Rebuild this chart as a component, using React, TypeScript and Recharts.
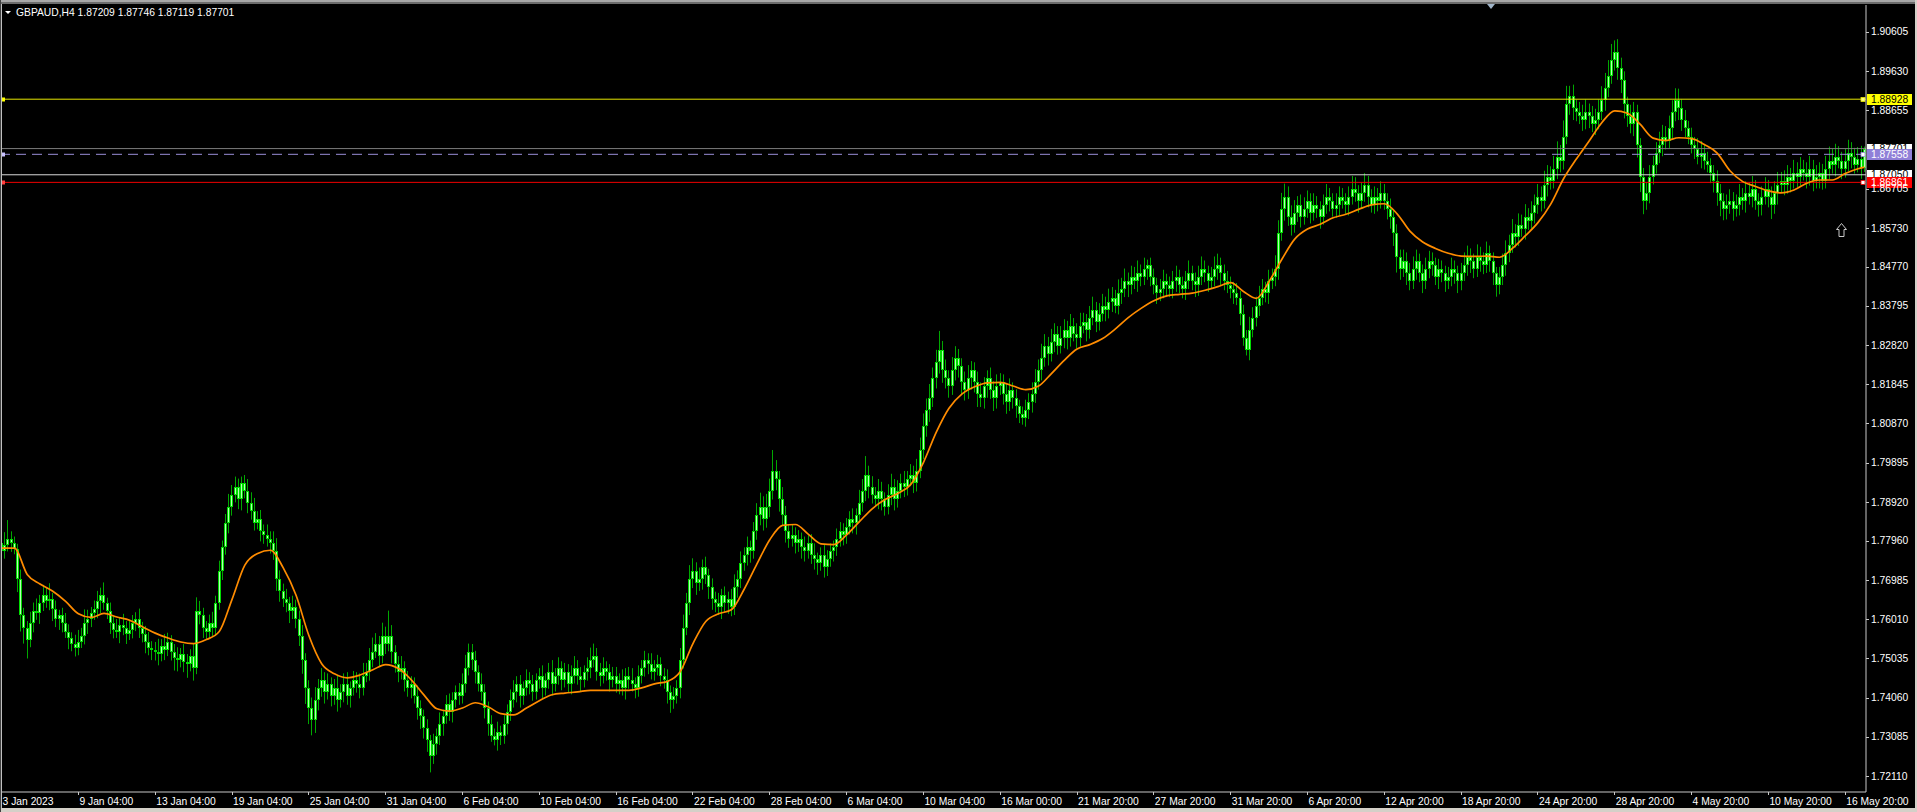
import React from 'react';
import { ComposedChart, Bar, Line, XAxis, YAxis, ReferenceLine } from 'recharts';

// ---- data (prices in pips above 1.70000) ----
const firstOpen = 790;

const closePips = [
  // 3 Jan
  770,785,800,790,775,700,610,580,550,590,620,615,640,660,645,650,625,600,610,590,570,555,540,530,
  // 9 Jan 04:00
  545,560,590,600,615,625,645,660,640,620,590,575,570,585,580,565,575,590,600,580,565,545,530,525,
  // 13 Jan 04:00
  520,515,535,525,545,520,505,500,515,495,490,510,480,620,610,580,570,590,580,640,720,780,840,880,
  // 19 Jan 04:00
  910,930,900,940,920,890,870,840,850,820,810,800,790,770,700,670,650,640,620,630,600,560,500,430,
  // 25 Jan 04:00
  380,350,400,430,450,420,440,410,430,400,420,440,410,430,450,440,430,460,470,500,520,540,510,560,
  // 31 Jan 04:00
  540,560,520,490,470,480,450,430,440,410,380,360,330,300,260,290,310,340,360,390,370,400,420,410,
  // 6 Feb 04:00
  440,480,520,500,470,440,420,380,340,310,300,320,310,340,370,400,420,440,410,430,450,440,420,450,
  // 10 Feb 04:00
  460,430,450,470,440,460,480,450,470,440,460,480,460,450,470,480,500,510,470,460,480,470,450,460,
  // 16 Feb 04:00
  440,450,430,460,450,440,430,460,480,500,490,470,480,490,460,450,420,400,410,430,500,580,640,700,
  // 22 Feb 04:00
  720,690,700,730,710,680,650,640,630,660,640,650,630,680,700,740,760,780,770,820,860,880,850,880,
  // 28 Feb 04:00
  920,970,950,900,860,820,800,810,790,800,780,770,790,760,750,740,760,730,750,770,780,800,820,810,
  // 6 Mar 04:00
  830,850,840,860,890,920,960,930,910,900,920,900,880,910,930,900,920,940,930,950,960,940,970,1020,
  // 10 Mar 04:00
  1080,1120,1150,1200,1240,1270,1220,1200,1180,1220,1250,1230,1190,1170,1200,1220,1190,1160,1150,1180,1200,1170,1150,1180,
  // 16 Mar 00:00
  1190,1160,1140,1170,1150,1130,1110,1100,1120,1140,1160,1190,1220,1250,1280,1260,1290,1310,1280,1300,1320,1300,1330,1310,
  // 21 Mar 20:00
  1300,1330,1340,1320,1350,1370,1340,1360,1380,1370,1390,1400,1380,1410,1420,1440,1430,1450,1440,1460,1450,1470,1480,1450,
  // 27 Mar 20:00
  1430,1410,1420,1440,1430,1420,1440,1450,1430,1420,1440,1460,1440,1430,1450,1470,1460,1440,1450,1470,1480,1460,1440,1430,
  // 31 Mar 20:00
  1420,1410,1400,1360,1300,1270,1320,1350,1380,1400,1420,1410,1440,1450,1470,1560,1620,1650,1600,1580,1610,1630,1600,1620,
  // 6 Apr 20:00
  1640,1610,1630,1620,1600,1630,1650,1640,1620,1630,1650,1640,1630,1650,1670,1660,1640,1660,1680,1650,1630,1650,1640,1660,
  // 12 Apr 20:00
  1640,1620,1600,1560,1500,1470,1490,1460,1440,1470,1490,1460,1440,1470,1490,1480,1450,1470,1460,1440,1450,1470,1460,1440,
  // 18 Apr 20:00
  1460,1480,1500,1490,1470,1500,1490,1480,1510,1490,1460,1430,1450,1480,1510,1530,1560,1550,1580,1570,1600,1590,1610,1630,
  // 24 Apr 20:00
  1650,1640,1680,1700,1690,1720,1750,1740,1800,1880,1900,1870,1860,1850,1840,1860,1850,1830,1840,1860,1890,1920,1950,1990,
  // 28 Apr 20:00
  2010,1970,1940,1880,1850,1830,1860,1780,1700,1640,1660,1700,1730,1760,1780,1800,1790,1820,1860,1890,1870,1840,1820,1800,
  // 4 May 20:00
  1780,1770,1750,1760,1740,1730,1710,1690,1660,1640,1620,1630,1640,1620,1630,1650,1640,1660,1650,1670,1640,1630,1650,1670,
  // 10 May 20:00
  1650,1630,1660,1680,1690,1680,1700,1690,1710,1700,1720,1710,1700,1720,1690,1700,1710,1690,1720,1740,1730,1750,1740,1720,
  // 16 May 20:00
  1740,1760,1750,1730,1745,1721,1770,
];

// wick lengths in pips above the body top / below the body bottom
const upperWick = [
  24,32,47,19,16,13,24,19,16,29,22,32,21,26,19,40,16,22,14,19,26,18,13,22,
  29,19,35,24,16,22,26,19,32,14,22,18,26,19,29,16,24,21,18,27,14,19,24,16,
  19,32,16,29,22,16,19,26,14,24,19,16,29,35,26,19,16,22,29,19,26,16,22,32,
  24,25,20,15,19,29,26,32,19,22,16,26,19,29,32,22,19,26,16,29,19,22,26,16,
  19,26,32,22,29,19,26,16,22,32,19,26,29,16,22,19,26,32,22,29,35,26,19,32,
  22,62,26,16,19,29,16,22,19,16,26,19,16,22,13,26,19,29,16,22,26,19,16,22,
  26,32,20,19,22,16,26,19,16,22,19,26,16,22,19,26,29,19,22,16,26,19,22,16,
  19,26,16,22,29,19,26,16,22,19,26,29,19,22,16,26,30,30,19,22,26,16,19,22,
  22,16,26,19,22,29,16,26,19,22,16,26,19,22,16,19,26,16,22,19,29,32,26,35,
  32,22,29,19,26,16,22,19,26,16,22,19,26,32,22,29,19,26,16,22,29,35,26,32,
  30,51,26,19,29,22,16,26,19,22,16,26,19,22,29,16,19,26,22,19,16,26,22,19,
  22,19,26,16,32,29,46,22,26,19,29,22,16,26,32,19,26,22,29,19,26,22,29,32,
  32,29,35,26,30,47,22,26,19,32,29,22,19,26,32,22,19,26,29,22,19,26,22,29,
  22,19,26,29,19,22,16,19,26,22,29,32,26,35,29,22,32,26,19,29,26,22,29,19,
  26,32,22,19,29,32,19,26,29,22,32,26,19,35,29,32,22,29,26,32,22,29,14,19,
  22,19,26,29,19,22,26,29,19,22,26,32,19,22,29,32,22,19,26,32,29,19,22,26,
  22,19,26,16,22,19,32,26,22,29,26,19,29,22,35,32,40,33,26,29,32,22,26,29,
  26,19,29,22,19,26,32,22,19,29,26,22,19,26,32,29,19,26,29,22,19,26,22,29,
  22,19,26,16,22,19,29,22,26,32,29,19,22,29,26,22,19,26,22,19,26,29,22,19,
  26,32,29,22,19,32,26,22,29,19,22,16,26,29,32,26,35,22,29,26,32,22,29,26,
  32,26,35,29,26,32,38,29,40,46,26,29,22,26,29,32,22,26,29,32,35,38,40,40,
  29,32,26,22,19,29,26,19,16,22,26,29,22,26,32,29,26,32,30,30,29,22,26,19,
  22,19,26,29,19,22,16,19,26,22,19,26,29,22,26,32,22,29,26,32,22,19,26,29,
  22,26,29,32,22,26,29,22,32,26,29,22,26,32,22,29,26,22,32,35,29,32,26,22,
  29,32,26,22,29,32,5,
];

const lowerWick = [
  60,19,16,22,13,32,40,40,47,19,22,16,26,19,16,22,29,19,26,22,16,29,19,22,
  19,16,22,26,19,16,22,29,16,19,26,22,16,29,19,26,16,22,19,26,22,29,19,26,
  22,29,19,26,16,22,32,29,19,26,35,19,32,16,22,26,19,16,22,19,16,22,19,26,
  22,19,26,29,19,26,22,19,16,26,22,19,26,22,29,26,19,22,29,19,22,26,35,40,
  40,38,32,26,22,29,19,26,22,29,19,26,22,29,19,22,26,19,16,22,19,16,26,19,
  26,19,29,22,26,19,29,22,26,19,29,32,26,29,40,19,26,22,29,19,22,26,19,22,
  19,22,19,26,29,19,22,26,29,14,13,26,22,19,26,22,19,26,29,22,19,26,22,19,
  22,26,19,22,29,19,22,26,19,22,26,19,22,29,19,22,26,19,22,26,19,22,29,19,
  22,26,19,29,22,19,26,22,19,22,26,19,22,19,26,22,29,32,22,19,26,22,19,29,
  22,29,19,26,22,29,26,22,19,29,22,26,22,19,26,22,19,26,29,19,22,26,29,22,
  26,22,29,32,26,29,22,19,26,22,29,26,19,22,26,29,19,26,22,19,26,22,19,26,
  22,19,26,29,19,22,26,29,22,19,26,29,22,19,26,29,22,19,26,22,19,26,22,19,
  22,26,29,22,26,29,32,26,29,22,26,29,32,26,22,29,26,32,22,26,29,22,32,26,
  22,26,29,22,26,29,22,16,21,22,26,22,19,26,22,29,19,26,22,19,26,29,22,19,
  26,22,19,29,22,19,26,22,19,29,22,26,19,22,26,19,29,22,19,26,22,19,26,22,
  22,26,19,22,29,19,22,26,19,22,26,19,22,29,26,19,22,26,19,22,26,29,22,19,
  22,26,19,29,20,14,26,19,22,26,19,22,26,19,22,26,19,29,22,26,19,22,26,19,
  22,26,19,22,29,19,22,26,19,22,26,19,22,26,19,22,29,19,22,26,19,22,26,19,
  22,26,29,32,38,26,19,29,22,19,26,22,29,19,22,26,19,29,22,26,19,22,26,29,
  22,19,26,29,22,19,26,22,19,26,29,28,22,19,26,22,19,26,22,19,26,22,19,26,
  22,26,19,29,22,19,26,29,22,19,26,29,22,19,26,22,29,19,26,22,19,26,22,19,
  26,29,32,35,26,22,29,32,38,33,22,26,19,22,26,29,22,19,26,22,29,26,22,19,
  22,26,19,29,22,19,26,29,32,38,28,26,22,29,19,26,22,29,19,26,22,29,26,19,
  26,35,22,29,19,26,22,29,19,26,22,19,29,22,26,19,29,22,19,26,22,29,19,26,
  22,26,29,22,19,26,9,
];

// moving average read every 4 bars (bars 0,4,...,580) + last bar
const maEvery4 = [
  777,777,712,688,670,645,614,605,615,606,
  598,582,566,554,544,540,550,570,650,735,
  764,772,728,660,560,490,465,455,462,475,
  488,478,450,412,378,372,380,393,383,366,
  363,380,398,413,417,420,424,424,424,424,
  430,440,446,470,540,595,614,624,675,738,
  798,834,836,812,788,786,810,843,875,898,
  913,935,990,1065,1125,1160,1178,1188,1189,1180,
  1171,1180,1211,1244,1272,1283,1298,1322,1350,1373,
  1392,1404,1408,1411,1418,1427,1437,1415,1398,1440,
  1495,1545,1570,1582,1598,1607,1619,1630,1633,1608,
  1565,1538,1522,1510,1503,1502,1503,1500,1522,1553,
  1586,1632,1695,1744,1789,1835,1864,1858,1830,1796,
  1790,1797,1795,1780,1759,1715,1688,1676,1665,1660,
  1667,1684,1692,1692,1708,1720,
];
const maLast = 1724;

const timeLabels = [
  '3 Jan 2023','9 Jan 04:00','13 Jan 04:00','19 Jan 04:00','25 Jan 04:00','31 Jan 04:00',
  '6 Feb 04:00','10 Feb 04:00','16 Feb 04:00','22 Feb 04:00','28 Feb 04:00','6 Mar 04:00',
  '10 Mar 04:00','16 Mar 00:00','21 Mar 20:00','27 Mar 20:00','31 Mar 20:00','6 Apr 20:00',
  '12 Apr 20:00','18 Apr 20:00','24 Apr 20:00','28 Apr 20:00','4 May 20:00','10 May 20:00','16 May 20:00',
];
const barsPerLabel = 24;

const priceTicks = [
  1.90605,1.8963,1.88655,1.86705,1.8573,1.8477,1.83795,1.8282,1.81845,1.8087,
  1.79895,1.7892,1.7796,1.76985,1.7601,1.75035,1.7406,1.73085,1.7211,
];
const priceDomain = [1.717124, 1.912685];

const levelPrices = [1.88928, 1.87701, 1.87558, 1.8705, 1.86861];
const levelStyles = [
  { stroke: '#e6e600', dash: undefined, box: '#ffff00', text: '#000000', left: '#ffff00', right: '#ffff80' },
  { stroke: '#7a7a7a', dash: undefined, box: '#ffffff', text: '#000000', left: null, right: null },
  { stroke: '#9a8ed8', dash: '10 6', box: '#9080d8', text: '#ffffff', left: '#c8c0ff', right: '#ffffff' },
  { stroke: '#d8d8d8', dash: undefined, box: '#ffffff', text: '#000000', left: null, right: null },
  { stroke: '#f00000', dash: undefined, box: '#ff0000', text: '#ffffff', left: '#ff4040', right: '#ffffff' },
];

const headerText = 'GBPAUD,H4  1.87209 1.87746 1.87119 1.87701';

// ---- table ----
const BASE = 1.7;
const P = (p: number) => +(BASE + p / 10000).toFixed(5);
const n = Math.min(closePips.length, upperWick.length, lowerWick.length);
const rows = closePips.slice(0, n).map((c, i) => {
  const o = i === 0 ? firstOpen : closePips[i - 1];
  const hi = Math.max(o, c) + upperWick[i];
  const lo = Math.min(o, c) - lowerWick[i];
  let ma: number | null = null;
  if (i % 4 === 0 && maEvery4[i / 4] != null) ma = P(maEvery4[i / 4]);
  if (i === n - 1) ma = P(maLast);
  return { i, open: P(o), close: P(c), high: P(hi), low: P(lo), range: [P(lo), P(hi)], ma };
});
const tickIdx = timeLabels.map((_, k) => k * barsPerLabel);

const FONT = "'Liberation Sans', Arial, sans-serif";
const FS = 10.3;

const Candle = (props: any) => {
  const { x, y, width, height, payload } = props;
  if (x == null || y == null || !payload) return null;
  const top0 = height >= 0 ? y : y + height;
  const h = Math.abs(height);
  const { open, close, high, low } = payload;
  const span = high - low;
  const yOf = (v: number) => top0 + (span > 0 ? ((high - v) / span) * h : 0);
  const c = Math.floor(x + width / 2);
  const t = Math.round(yOf(Math.max(open, close)));
  let b = Math.round(yOf(Math.min(open, close)));
  if (b <= t) b = t + 1;
  return (
    <g>
      <line x1={c + 0.5} x2={c + 0.5} y1={top0} y2={top0 + h} stroke="#00a800" strokeWidth={1} />
      <rect x={c - 1} y={t} width={3} height={b - t} fill="#00dc00" />
      {b - t > 2 && <rect x={c} y={t + 1} width={1} height={b - t - 2} fill="#b4ffb4" />}
    </g>
  );
};

const TimeTick = (props: any) => {
  const { x, y, payload } = props;
  const k = tickIdx.indexOf(payload.value);
  const label = k >= 0 ? timeLabels[k] : '';
  const tx = Math.floor(x) + 0.5;
  return (
    <g>
      <line x1={tx} x2={tx} y1={y} y2={y + 3} stroke="#c8c8c8" />
      <text x={x + 1} y={y + 12.5} fill="#ffffff" fontSize={FS} fontFamily={FONT} textAnchor="start">{label}</text>
    </g>
  );
};

const PriceTick = (props: any) => {
  const { x, y, payload } = props;
  const ty = Math.round(y) + 0.5;
  return (
    <g>
      <line x1={x} x2={x + 3} y1={ty} y2={ty} stroke="#c8c8c8" />
      <text x={x + 5} y={y + 3.7} fill="#ffffff" fontSize={FS} fontFamily={FONT} textAnchor="start">
        {Number(payload.value).toFixed(5)}
      </text>
    </g>
  );
};

const LevelLabel = (props: any) => {
  const { viewBox, k } = props;
  if (!viewBox) return null;
  const st = levelStyles[k];
  const y = viewBox.y;
  const left = viewBox.x;
  const right = viewBox.x + viewBox.width;
  const yr = Math.round(y);
  return (
    <g>
      {st.left && <rect x={left + 1} y={yr - 1.5} width={4} height={4} fill={st.left} />}
      {st.right && <rect x={right - 5} y={yr - 1.5} width={4} height={4} fill={st.right} stroke={st.stroke} strokeWidth={0.8} />}
      <rect x={right + 1} y={yr - 5} width={45} height={11} fill={st.box} />
      <text x={right + 5} y={y + 3.7} fill={st.text} fontSize={FS} fontFamily={FONT}>{levelPrices[k].toFixed(5)}</text>
    </g>
  );
};

export default function App() {
  return (
    <div style={{ position: 'fixed', left: 0, top: 0, width: 1917, height: 812, background: '#000', overflow: 'hidden' }}>
      <ComposedChart
        width={1917}
        height={812}
        data={rows}
        margin={{ top: 5, right: 0, bottom: 0, left: 0 }}
        barCategoryGap={0}
        barGap={0}
      >
        <XAxis
          dataKey="i"
          type="category"
          ticks={tickIdx}
          interval={0}
          height={20}
          tickSize={0}
          tickMargin={0}
          tickLine={false}
          axisLine={{ stroke: '#c8c8c8' }}
          tick={<TimeTick />}
        />
        <YAxis
          orientation="right"
          type="number"
          domain={priceDomain}
          allowDataOverflow
          ticks={priceTicks}
          interval={0}
          width={51}
          tickSize={0}
          tickMargin={0}
          tickLine={false}
          axisLine={{ stroke: '#c8c8c8' }}
          tick={<PriceTick />}
        />
        {levelPrices.map((p, k) => (
          <ReferenceLine
            key={k}
            y={p}
            stroke={levelStyles[k].stroke}
            strokeDasharray={levelStyles[k].dash}
            strokeWidth={1}
            label={<LevelLabel k={k} />}
          />
        ))}
        <Bar dataKey="range" shape={(p: any) => <Candle {...p} />} isAnimationActive={false} />
        <Line
          dataKey="ma"
          type="monotone"
          stroke="#ff8c00"
          strokeWidth={1.7}
          dot={false}
          activeDot={false}
          connectNulls
          isAnimationActive={false}
        />
      </ComposedChart>
      <svg width={1917} height={812} style={{ position: 'absolute', left: 0, top: 0, pointerEvents: 'none' }}>
        <rect x={0} y={0} width={1917} height={2} fill="#a8a8a8" />
        <rect x={0} y={2} width={1917} height={2} fill="#6c6c6c" />
        <rect x={0} y={808} width={1917} height={4} fill="#d4d0c8" />
        <rect x={0} y={0} width={1} height={812} fill="#404040" />
        <rect x={1} y={4} width={1} height={804} fill="#c0c0c0" />
        <rect x={1915} y={0} width={2} height={812} fill="#d4d0c8" />
        <polygon points="1487,4 1495,4 1491,9" fill="#a0b4c8" />
        <polygon points="5,11 11,11 8,14" fill="#ffffff" />
        <text x={16} y={16} fill="#ffffff" fontSize={FS} fontFamily={FONT}>{headerText}</text>
        <path d="M1841.5,223.5 L1846.5,229.5 L1844,229.5 L1844,236.5 L1839,236.5 L1839,229.5 L1836.5,229.5 Z" fill="none" stroke="#c8c8c8" strokeWidth={1} />
      </svg>
    </div>
  );
}
